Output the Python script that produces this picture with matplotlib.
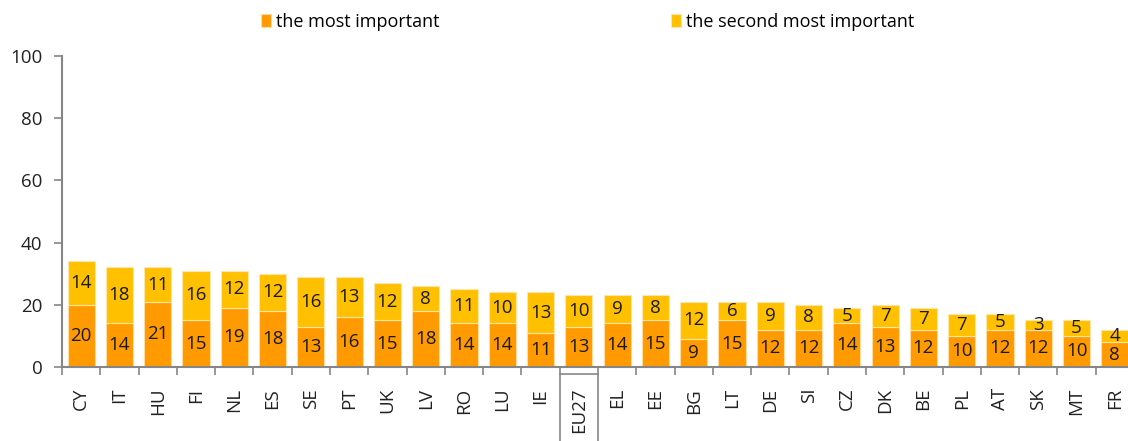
import numpy as np
import matplotlib
matplotlib.use('Agg')
import matplotlib.pyplot as plt
import matplotlib.transforms as transforms
from matplotlib.patches import Rectangle

countries = ['CY', 'IT', 'HU', 'FI', 'NL', 'ES', 'SE', 'PT', 'UK', 'LV', 'RO', 'LU', 'IE', 'EU27',
             'EL', 'EE', 'BG', 'LT', 'DE', 'SI', 'CZ', 'DK', 'BE', 'PL', 'AT', 'SK', 'MT', 'FR']
most_important = [20, 14, 21, 15, 19, 18, 13, 16, 15, 18, 14, 14, 11, 13,
                  14, 15, 9, 15, 12, 12, 14, 13, 12, 10, 12, 12, 10, 8]
second_important = [14, 18, 11, 16, 12, 12, 16, 13, 12, 8, 11, 10, 13, 10,
                    9, 8, 12, 6, 9, 8, 5, 7, 7, 7, 5, 3, 5, 4]

c_first = '#ff9a00'
c_second = '#ffc000'
grey = '#868686'

plt.rcParams['font.family'] = ['Open Sans', 'DejaVu Sans']

fig = plt.figure(figsize=(11.28, 4.41), dpi=100)
ax = fig.add_axes([62 / 1128, 74 / 441, 1072 / 1128, 311 / 441])

x = np.arange(len(countries))
b1 = ax.bar(x, most_important, width=0.71, color=c_first, edgecolor='#ffdca0',
            linewidth=0.8, label='the most important')
b2 = ax.bar(x, second_important, width=0.71, bottom=most_important, color=c_second,
            edgecolor='#ffe6a8', linewidth=0.8, label='the second most important')
ax.bar_label(b1, labels=[str(v) for v in most_important], label_type='center',
             fontsize=13.5, color='#1a1a1a')
ax.bar_label(b2, labels=[str(v) for v in second_important], label_type='center',
             fontsize=13.5, color='#1a1a1a')

ax.set_xlim(-0.5, len(countries) - 0.5)
ax.set_ylim(0, 100)
ax.set_yticks([0, 20, 40, 60, 80, 100])
ax.tick_params(axis='y', colors=grey, labelcolor='#222222', labelsize=13.5,
               length=6, width=1.2, pad=8)

ax.set_xticks(x)
ax.set_xticklabels(countries, rotation=90, fontsize=13.5, color='#222222')
ax.set_xticks(np.arange(len(countries) + 1) - 0.5, minor=True)
ax.tick_params(axis='x', which='major', length=0, pad=15)
ax.tick_params(axis='x', which='minor', length=6, width=1.2, color=grey)

for side in ['top', 'right']:
    ax.spines[side].set_visible(False)
for side in ['left', 'bottom']:
    ax.spines[side].set_color(grey)
    ax.spines[side].set_linewidth(1.5)

# box around the EU27 label
trans = transforms.blended_transform_factory(ax.transData, ax.transAxes)
idx = countries.index('EU27')
box = Rectangle((idx - 0.5, -0.24), 1.0, 0.218, transform=trans, fill=False,
                edgecolor=grey, linewidth=1.2, clip_on=False)
ax.add_patch(box)

leg = fig.legend(handles=[b1, b2], loc='upper left', bbox_to_anchor=(250 / 1128, 0.995),
                 ncol=2, frameon=False, fontsize=13, handlelength=0.55, handleheight=0.7,
                 handletextpad=0.3, columnspacing=12.8, borderaxespad=0.2)

fig.savefig('out.png', dpi=100)
